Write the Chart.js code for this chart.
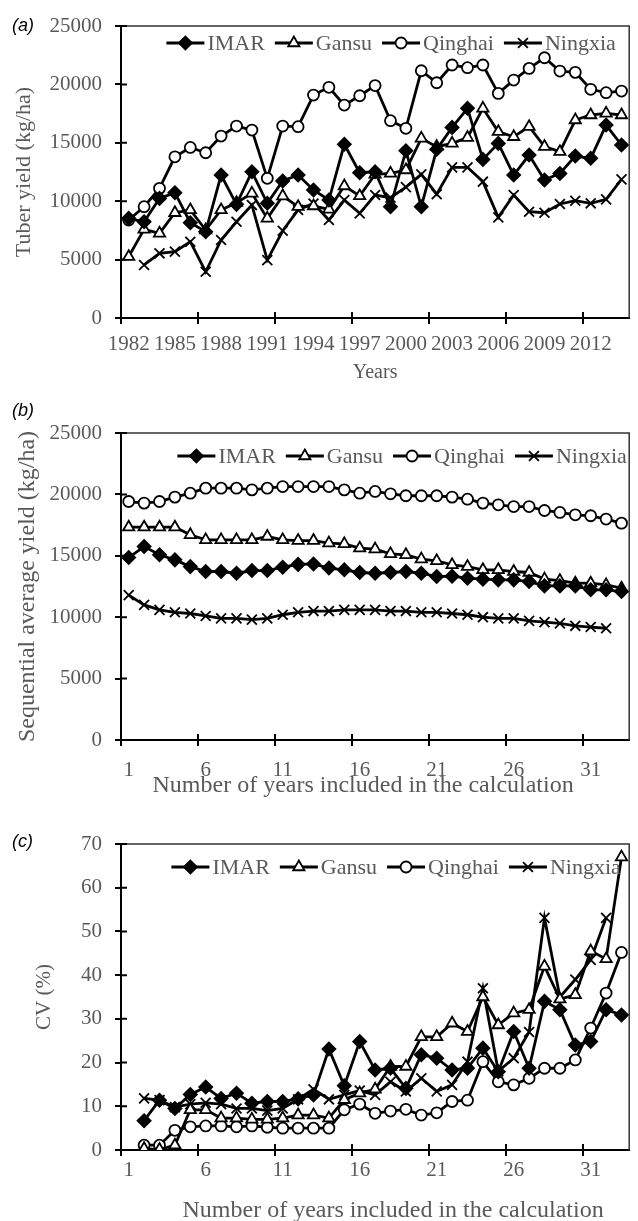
<!DOCTYPE html>
<html>
<head>
<meta charset="utf-8">
<title>Tuber yield, sequential average and CV</title>
<script src="https://cdn.jsdelivr.net/npm/chart.js@4.4.1/dist/chart.umd.min.js"></script>
<style>
  html, body { margin: 0; padding: 0; background: #fff; }
  body { position: relative; width: 638px; height: 1221px; overflow: hidden; }
  canvas { position: absolute; left: 0; }
  .tag { position: absolute; left: 12px; font: italic 18px "Liberation Sans", Arial, sans-serif; color: #000; line-height: 20px; }
</style>
</head>
<body>
<canvas id="chartA" width="638" height="390" style="top:0"></canvas>
<canvas id="chartB" width="638" height="410" style="top:390px"></canvas>
<canvas id="chartC" width="638" height="425" style="top:800px"></canvas>
<div class="tag" style="top:15px">(a)</div>
<div class="tag" style="top:400px">(b)</div>
<div class="tag" style="top:831px">(c)</div>
<script>
// (a) tuber yield by year, kg/ha
const years = ['1982','1983','1984','1985','1986','1987','1988','1989','1990','1991','1992',
  '1993','1994','1995','1996','1997','1998','1999','2000','2001','2002','2003',
  '2004','2005','2006','2007','2008','2009','2010','2011','2012','2013','2014'];
const yieldIMAR = [8530,8240,10240,10730,8160,7390,12240,9730,12520,9820,11730,
  12240,10960,10100,14870,12440,12520,9530,14320,9530,14440,16320,
  17950,13580,14950,12240,13950,11810,12380,13870,13670,16520,14810];
const yieldGansu = [5250,7590,7250,9010,9250,7530,9250,9870,10670,8530,10440,
  9530,9590,9300,11300,10450,12300,12380,12670,15380,14670,14950,
  15440,17950,15950,15520,16380,14670,14240,16950,17380,17520,17380];
const yieldQinghai = [8390,9530,11100,13800,14600,14150,15580,16430,16090,11960,16430,
  16380,19090,19750,18230,19030,19900,16890,16240,21170,20140,21660,
  21430,21660,19230,20370,21370,22280,21140,21030,19580,19290,19430];
const yieldNingxia = [null,4540,5540,5680,6530,3960,6680,8240,9670,4960,7470,
  9250,9800,8390,10100,8960,10530,10300,11200,12300,10600,12900,
  12900,11670,8620,10530,9100,9010,9760,10040,9820,10160,11870];

// (b) sequential average yield, kg/ha, by number of years included
const yearsIncluded = ['1','2','3','4','5','6','7','8','9','10','11',
  '12','13','14','15','16','17','18','19','20','21','22',
  '23','24','25','26','27','28','29','30','31','32','33'];
const avgIMAR = [14860,15750,15080,14670,14120,13720,13720,13580,13800,13800,14070,
  14300,14340,14000,13860,13640,13580,13640,13720,13580,13310,13340,
  13180,13100,13040,13040,12900,12550,12550,12550,12230,12230,12090];
const avgGansu = [17330,17330,17330,17330,16710,16300,16300,16300,16300,16570,16300,
  16240,16240,16030,15970,15620,15540,15160,15080,14730,14590,14260,
  14120,13860,13860,13720,13640,13100,12980,12770,12770,12630,12360];
const avgQinghai = [19420,19290,19420,19780,20100,20510,20510,20510,20370,20510,20640,
  20640,20640,20640,20370,20100,20240,20050,19890,19890,19890,19780,
  19610,19290,19150,19010,19010,18690,18530,18340,18260,17990,17660];
const avgNingxia = [11800,11000,10600,10400,10300,10100,9900,9900,9800,9900,10200,
  10400,10500,10500,10600,10600,10600,10500,10500,10400,10400,10300,
  10200,10000,9900,9900,9700,9600,9500,9300,9200,9100,null];

// (c) CV %, by number of years included
const cvIMAR = [null,6.7,11.4,9.5,12.7,14.4,11.8,13.0,10.7,11.1,11.1,
  11.7,12.6,23.1,14.7,24.8,18.3,18.7,14.1,21.8,21.0,18.3,
  18.7,23.3,17.9,27.1,18.7,34.0,32.1,24.0,24.8,32.1,30.9];
const cvGansu = [null,0.3,0.1,1.1,9.2,9.2,7.3,7.3,7.0,7.0,7.3,
  8.0,8.0,7.3,11.5,13.0,13.9,19.1,19.1,25.9,25.9,29.0,
  27.1,35.0,28.6,31.3,32.1,42.0,34.5,35.5,45.5,43.7,67.0];
const cvQinghai = [null,1.1,1.1,4.5,5.3,5.5,5.5,5.3,5.5,5.2,5.0,
  5.0,5.0,5.0,9.2,10.5,8.4,8.9,9.3,8.0,8.5,11.1,
  11.4,20.2,15.6,14.9,16.4,18.7,18.7,20.6,27.9,35.9,45.2];
const cvNingxia = [null,11.8,11.4,9.8,10.5,10.8,10.5,9.5,9.5,9.0,9.5,
  11.6,13.9,11.6,12.6,13.6,12.6,15.6,13.4,16.4,13.4,14.9,
  20.2,37.0,18.0,21.0,27.0,53.1,35.0,39.0,43.5,53.1,null];

const serif = '"Liberation Serif", "Times New Roman", serif';
const grey = '#595959';

const markers = {
  IMAR:    { pointStyle: 'rectRot',  pointRadius: 6.5, pointBackgroundColor: '#000' },
  Gansu:   { pointStyle: 'triangle', pointRadius: 6.5, pointBackgroundColor: '#fff' },
  Qinghai: { pointStyle: 'circle',   pointRadius: 5.5, pointBackgroundColor: '#fff' },
  Ningxia: { pointStyle: 'crossRot', pointRadius: 7,   pointBackgroundColor: '#fff' }
};

function series(name, data) {
  return Object.assign({
    label: name, data: data,
    borderColor: '#000', borderWidth: 2.8,
    pointBorderColor: '#000', pointBorderWidth: 1.8,
    tension: 0, fill: false, spanGaps: false
  }, markers[name]);
}

// top/right frame lines and the inner half of the crossing tick marks
const framePlugin = {
  id: 'frame',
  beforeDatasetsDraw(chart) {
    const { ctx, chartArea: a, scales: { x, y } } = chart;
    ctx.save();
    ctx.strokeStyle = '#333';
    ctx.lineWidth = 1.5;
    ctx.beginPath();
    ctx.moveTo(a.left, a.top);
    ctx.lineTo(a.right, a.top);
    ctx.lineTo(a.right, a.bottom);
    ctx.stroke();
    ctx.strokeStyle = '#000';
    ctx.lineWidth = 2;
    ctx.beginPath();
    y.ticks.forEach((t, i) => {
      const py = y.getPixelForTick(i);
      ctx.moveTo(a.left, py);
      ctx.lineTo(a.left + 6, py);
    });
    const half = (x.getPixelForValue(1) - x.getPixelForValue(0)) / 2;
    for (let i = 5; i < x.ticks.length; i += 5) {
      const px = x.getPixelForValue(i) - half;
      ctx.moveTo(px, a.bottom);
      ctx.lineTo(px, a.bottom - 6);
    }
    ctx.stroke();
    ctx.restore();
  }
};

function drawMarker(ctx, ds, px, py) {
  ctx.fillStyle = ds.pointBackgroundColor;
  ctx.strokeStyle = '#000';
  ctx.lineWidth = ds.pointBorderWidth;
  if (Chart.helpers && Chart.helpers.drawPoint) {
    Chart.helpers.drawPoint(ctx, { pointStyle: ds.pointStyle, radius: ds.pointRadius, borderWidth: ds.pointBorderWidth, rotation: 0 }, px, py);
  }
}

// legend drawn inside the plot frame, line + marker + label
const legendPlugin = {
  id: 'insideLegend',
  afterDatasetsDraw(chart, args, opts) {
    const { ctx, chartArea: a } = chart;
    ctx.save();
    ctx.font = '22px ' + serif;
    const items = chart.data.datasets.map(ds => ({ ds, w: ctx.measureText(ds.label).width }));
    const total = items.reduce((s, it) => s + opts.lineLen + opts.gap + it.w, 0) + opts.spacing * (items.length - 1);
    let x = (a.left + a.right) / 2 - total / 2 + opts.shift;
    const y = a.top + opts.top;
    items.forEach(it => {
      ctx.strokeStyle = '#000';
      ctx.lineWidth = it.ds.borderWidth;
      ctx.beginPath();
      ctx.moveTo(x, y);
      ctx.lineTo(x + opts.lineLen, y);
      ctx.stroke();
      drawMarker(ctx, it.ds, x + opts.lineLen / 2, y);
      ctx.fillStyle = grey;
      ctx.textBaseline = 'middle';
      ctx.textAlign = 'left';
      ctx.fillText(it.ds.label, x + opts.lineLen + opts.gap, y + 1);
      x += opts.lineLen + opts.gap + it.w + opts.spacing;
    });
    ctx.restore();
  }
};

function makeChart(id, labels, datasets, cfg) {
  return new Chart(document.getElementById(id), {
    type: 'line',
    data: { labels: labels, datasets: datasets },
    options: {
      responsive: false,
      animation: false,
      events: [],
      layout: { padding: { top: cfg.top, right: 2, bottom: 0, left: 0 } },
      plugins: {
        legend: { display: false },
        tooltip: { enabled: false },
        insideLegend: { lineLen: 38, gap: 3, spacing: 10, top: cfg.legendTop, shift: cfg.legendShift }
      },
      scales: {
        x: {
          type: 'category',
          offset: true,
          grid: {
            offset: true, drawOnChartArea: false, tickLength: 6, lineWidth: 2,
            color: c => (c.index % 5 === 0 ? '#000' : 'rgba(0,0,0,0)')
          },
          border: { color: '#000', width: 2 },
          ticks: {
            autoSkip: false, maxRotation: 0, padding: cfg.xPad, color: grey,
            font: { family: serif, size: 21 },
            callback: (v, i) => (i % cfg.labelEvery === 0 ? labels[i] : '')
          },
          title: {
            display: true, text: cfg.xTitle, color: grey,
            font: { family: serif, size: cfg.xTitleSize },
            padding: { top: 0, bottom: cfg.xTitlePad }
          },
          afterFit: s => { s.height = cfg.xHeight; }
        },
        y: {
          min: 0, max: cfg.yMax,
          grid: { drawOnChartArea: false, tickLength: 6, lineWidth: 2, color: '#000' },
          border: { color: '#000', width: 2 },
          ticks: {
            stepSize: cfg.yStep, padding: 13, color: grey,
            font: { family: serif, size: 21 },
            callback: v => String(v)
          },
          title: {
            display: true, text: cfg.yTitle, color: grey,
            font: { family: serif, size: cfg.yTitleSize },
            padding: { top: cfg.yTitlePad, bottom: 0 }
          },
          afterFit: s => { s.width = 121; }
        }
      }
    },
    plugins: [framePlugin, legendPlugin]
  });
}

const yearsTitle = 'Number of years included in the calculation';

makeChart('chartA', years, [
  series('IMAR', yieldIMAR), series('Gansu', yieldGansu),
  series('Qinghai', yieldQinghai), series('Ningxia', yieldNingxia)
], { top: 26, xHeight: 72, xPad: 8, xTitlePad: 5, xTitle: 'Years', xTitleSize: 20, labelEvery: 3,
     yMax: 25000, yStep: 5000, yTitle: 'Tuber yield (kg/ha)', yTitleSize: 22, yTitlePad: 11,
     legendTop: 17, legendShift: 16 });

// the x titles of (b) and (c) sit a little left / right of the plot centre
makeChart('chartB', yearsIncluded, [
  series('IMAR', avgIMAR), series('Gansu', avgGansu),
  series('Qinghai', avgQinghai), series('Ningxia', avgNingxia)
], { top: 43, xHeight: 60, xPad: 12, xTitlePad: 0, xTitle: yearsTitle + '    ', xTitleSize: 24, labelEvery: 5,
     yMax: 25000, yStep: 5000, yTitle: 'Sequential average yield (kg/ha)', yTitleSize: 24, yTitlePad: 13,
     legendTop: 23, legendShift: 27 });

makeChart('chartC', yearsIncluded, [
  series('IMAR', cvIMAR), series('Gansu', cvGansu),
  series('Qinghai', cvQinghai), series('Ningxia', cvNingxia)
], { top: 44, xHeight: 75, xPad: 2, xTitlePad: 0, xTitle: '      ' + yearsTitle, xTitleSize: 24, labelEvery: 5,
     yMax: 70, yStep: 10, yTitle: 'CV (%)', yTitleSize: 21, yTitlePad: 32,
     legendTop: 23, legendShift: 21 });
</script>
</body>
</html>
